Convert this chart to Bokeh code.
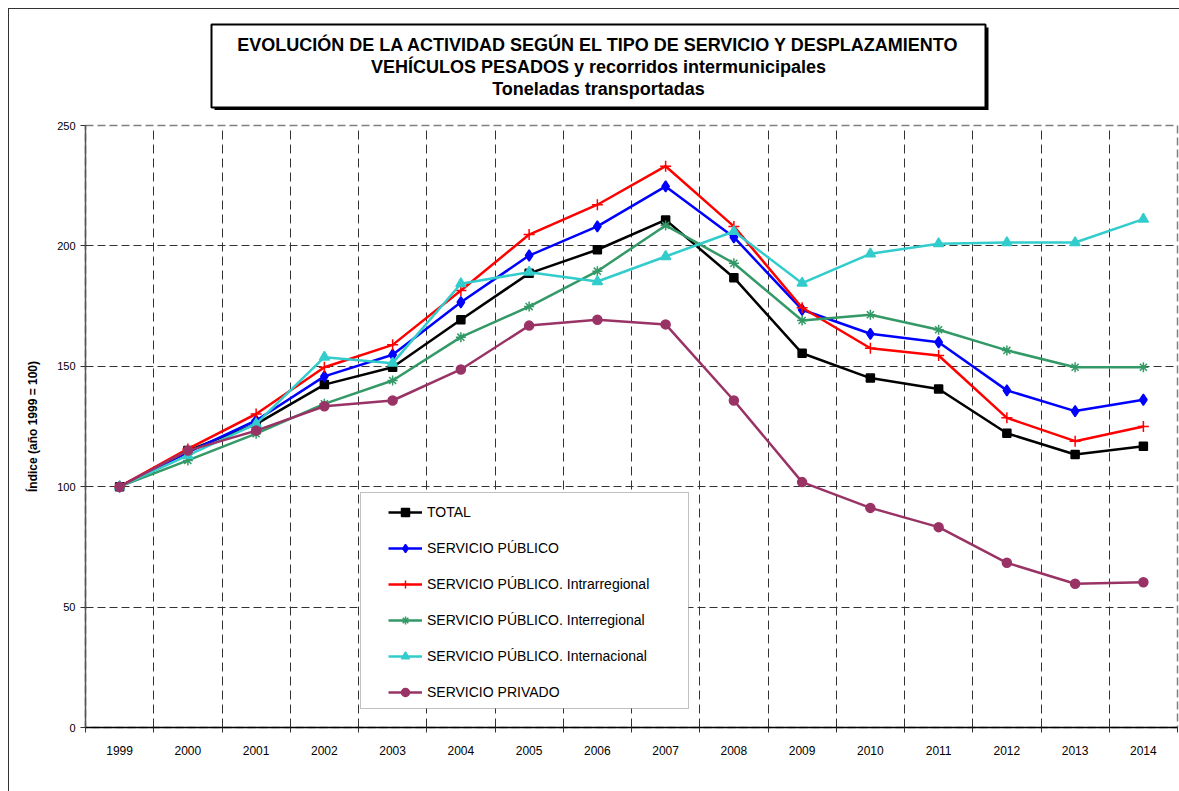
from bokeh.plotting import figure
from bokeh.layouts import column
from bokeh.models import (FixedTicker, Legend, LegendItem, BoxAnnotation, Range1d)
from bokeh.core.properties import value
from bokeh.embed import file_html
from bokeh.resources import INLINE

years = ["1999", "2000", "2001", "2002", "2003", "2004", "2005", "2006",
         "2007", "2008", "2009", "2010", "2011", "2012", "2013", "2014"]
total = [100, 115.0, 126.0, 142.4, 149.6, 169.3, 188.6, 198.4, 210.8, 186.8, 155.4, 145.1, 140.6, 122.2, 113.4, 116.8]
publico = [100, 114.3, 127.5, 145.8, 154.8, 176.6, 196.0, 208.1, 224.7, 203.6, 173.5, 163.5, 160.0, 140.0, 131.4, 136.1]
intra = [100, 115.7, 130.2, 149.6, 158.9, 181.5, 204.7, 217.1, 233.1, 208.1, 174.3, 157.5, 154.5, 128.6, 118.9, 125.0]
inter = [100, 110.9, 122.0, 134.4, 144.1, 162.1, 174.8, 189.5, 208.5, 192.8, 169.0, 171.4, 165.2, 156.6, 149.6, 149.6]
internac = [100, 113.0, 126.1, 153.8, 151.3, 184.3, 189.1, 185.2, 195.6, 206.0, 184.5, 196.7, 200.9, 201.4, 201.4, 211.1]
privado = [100, 115.0, 123.3, 133.4, 135.8, 148.7, 166.9, 169.3, 167.4, 135.8, 101.9, 91.2, 83.2, 68.4, 59.7, 60.3]

series_names = ["TOTAL", "SERVICIO PÚBLICO", "SERVICIO PÚBLICO. Intrarregional",
                "SERVICIO PÚBLICO. Interregional", "SERVICIO PÚBLICO. Internacional",
                "SERVICIO PRIVADO"]
y_ticks = [0, 50, 100, 150, 200, 250]
title_lines = ["EVOLUCIÓN DE LA ACTIVIDAD SEGÚN EL TIPO DE SERVICIO Y DESPLAZAMIENTO",
               "VEHÍCULOS PESADOS y recorridos intermunicipales",
               "Toneladas transportadas"]
y_label = "Índice (año 1999 = 100)"

FONT = "Liberation Sans"
OX, OY = 9, 9            # page offset of content (8px margin + 1px border)
W = 1179 - OX
TITLE_BOTTOM = 110       # page y where main figure starts
FRAME_L, FRAME_R, FRAME_T, FRAME_B = 85, 1177, 125, 727  # page coords

# ---------------- title figure (coordinates = page pixels) ----------------
tf = figure(width=W, height=TITLE_BOTTOM - OY, output_backend="svg", toolbar_location=None,
            x_range=Range1d(FRAME_L, FRAME_R), y_range=Range1d(TITLE_BOTTOM, OY),
            x_axis_type=None, y_axis_type=None,
            min_border_left=FRAME_L - OX, min_border_right=W - (FRAME_R - OX),
            min_border_top=0, min_border_bottom=0,
            background_fill_color="white", border_fill_color="white")
tf.outline_line_color = None
tf.grid.visible = False

tf.quad(left=[214], right=[988], top=[27], bottom=[110],
        fill_color="black", line_color=None)
tf.quad(left=[211], right=[985], top=[24], bottom=[107],
        fill_color="white", line_color="black", line_width=2)
tf.text(x=[598] * 3, y=[44, 66, 88], text=title_lines,
        text_font=value(FONT), text_font_size="18px", text_font_style="bold",
        text_align="center", text_baseline="middle", text_color="black")

# ---------------- main figure ----------------
H = 791 - TITLE_BOTTOM
xs = list(range(len(years)))

p = figure(width=W, height=H, output_backend="svg", toolbar_location=None,
           title=None, x_range=Range1d(-0.5, len(years) - 0.5), y_range=Range1d(0, 250),
           min_border_left=FRAME_L - OX, min_border_right=W - (FRAME_R - OX),
           min_border_top=FRAME_T - TITLE_BOTTOM, min_border_bottom=791 - FRAME_B,
           background_fill_color="white", border_fill_color="white")

def fx(x):
    return x - FRAME_L

def fy(y):
    return FRAME_B - y

p.outline_line_color = "#808080"
p.outline_line_dash = "8 4"
p.outline_line_width = 1.5

p.ygrid.ticker = FixedTicker(ticks=[50, 100, 150, 200])
p.ygrid.grid_line_color = "#333333"
p.ygrid.grid_line_dash = "8 4"
p.xgrid.ticker = FixedTicker(ticks=[i + 0.5 for i in range(len(years) - 1)])
p.xgrid.grid_line_color = "#333333"
p.xgrid.grid_line_dash = "9 5"

p.yaxis.ticker = FixedTicker(ticks=y_ticks)
p.yaxis.axis_line_color = "#555555"
p.yaxis.axis_line_width = 1.5
p.yaxis.major_tick_out = 5
p.yaxis.major_tick_in = 0
p.yaxis.major_tick_line_color = "#333333"
p.yaxis.minor_tick_line_color = None
p.yaxis.major_label_standoff = 5
p.yaxis.major_label_text_font = FONT
p.yaxis.major_label_text_font_size = "11px"
p.yaxis.major_label_text_color = "black"
p.yaxis.axis_label = y_label
p.yaxis.axis_label_text_font = FONT
p.yaxis.axis_label_text_font_size = "12px"
p.yaxis.axis_label_text_font_style = "bold"
p.yaxis.axis_label_text_color = "black"
p.yaxis.axis_label_standoff = 14

p.xaxis.ticker = FixedTicker(ticks=xs, minor_ticks=[i - 0.5 for i in range(len(years) + 1)])
p.xaxis.major_label_overrides = {i: y for i, y in enumerate(years)}
p.xaxis.axis_line_color = "black"
p.xaxis.axis_line_width = 1.5
p.xaxis.major_tick_line_color = None
p.xaxis.major_tick_out = 0
p.xaxis.major_tick_in = 0
p.xaxis.minor_tick_line_color = "#333333"
p.xaxis.minor_tick_out = 5
p.xaxis.minor_tick_in = 0
p.xaxis.major_label_standoff = 13
p.xaxis.major_label_text_font = FONT
p.xaxis.major_label_text_font_size = "12px"
p.xaxis.major_label_text_color = "black"

styles = [
    dict(color="black", marker="square", size=8, fill=True),
    dict(color="#0000FF", marker="diamond", size=11, fill=True),
    dict(color="#FF0000", marker="cross", size=11, fill=False),
    dict(color="#339966", marker="asterisk", size=10, fill=False),
    dict(color="#33CCCC", marker="triangle", size=10, fill=True),
    dict(color="#993366", marker="circle", size=9, fill=True),
]
data = [total, publico, intra, inter, internac, privado]

items = []
for name, vals, st in zip(series_names, data, styles):
    lr = p.line(xs, vals, line_color=st["color"], line_width=2.5)
    sr = p.scatter(xs, vals, marker=st["marker"], size=st["size"], line_color=st["color"],
                   fill_color=st["color"] if st["fill"] else None, line_width=1.5)
    items.append(LegendItem(label=name, renderers=[lr, sr]))

lbox = BoxAnnotation(left=fx(360), right=fx(688), top=fy(492), bottom=fy(708),
                     left_units="screen", right_units="screen", top_units="screen", bottom_units="screen",
                     fill_color="white", fill_alpha=1, line_color="#333333", line_width=1)
p.add_layout(lbox)

legend = Legend(items=items, location=(fx(388), fy(701.7)), padding=0, margin=0,
                border_line_color=None, background_fill_alpha=0,
                glyph_width=34, glyph_height=20, label_height=20, spacing=16, label_standoff=5,
                label_text_font=FONT, label_text_font_size="14px", label_text_color="black")
p.add_layout(legend, "center")

layout = column(tf, p, spacing=0,
                styles={"margin-left": "8px", "margin-top": "8px",
                        "border-left": "1px solid #333333", "border-top": "1px solid #333333"})

open("out.html", "w").write(file_html(layout, INLINE))
